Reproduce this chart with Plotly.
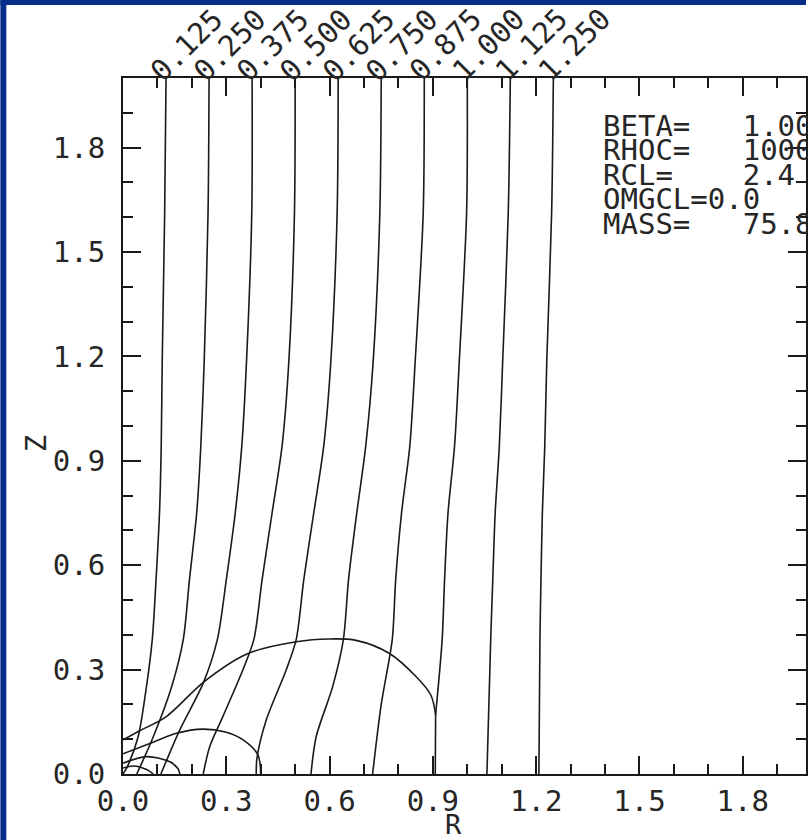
import plotly.graph_objects as go

# ---- data -----------------------------------------------------------------
# field lines, labelled by the cylindrical radius at which they leave the top
line_labels = [0.125, 0.250, 0.375, 0.500, 0.625, 0.750, 0.875, 1.000, 1.125, 1.250]

# common sample heights for the upper part of every line
z_upper = [2.0, 1.613, 1.191, 0.942, 0.750, 0.558, 0.386]
r_upper = [
    [0.125, 0.121, 0.114, 0.111, 0.106, 0.096, 0.085],
    [0.250, 0.247, 0.236, 0.226, 0.214, 0.193, 0.175],
    [0.375, 0.374, 0.359, 0.345, 0.326, 0.300, 0.274],
    [0.500, 0.498, 0.482, 0.462, 0.433, 0.404, 0.380],
    [0.625, 0.622, 0.604, 0.583, 0.554, 0.525, 0.503],
    [0.750, 0.746, 0.727, 0.705, 0.679, 0.655, 0.640],
    [0.875, 0.872, 0.849, 0.833, 0.809, 0.792, 0.782],
    [1.000, 0.998, 0.977, 0.963, 0.944, 0.934, 0.927],
    [1.125, 1.119, 1.103, 1.093, 1.081, 1.074, 1.068],
    [1.250, 1.245, 1.231, 1.225, 1.218, 1.214, 1.211],
]

# lower part of every line, down to the equatorial plane
z_lower = [
    [0.250, 0.107, 0.020, 0.000],
    [0.250, 0.107, 0.000],
    [0.261, 0.127, 0.000],
    [0.299, 0.165, 0.079, 0.000],
    [0.299, 0.155, 0.045, 0.000],
    [0.251, 0.107, 0.000],
    [0.200, 0.000],
    [0.170],
    [0.000],
    [0.000],
]
r_lower = [
    [0.068, 0.044, 0.012, 0.000],
    [0.141, 0.088, 0.040],
    [0.233, 0.165, 0.110],
    [0.348, 0.290, 0.252, 0.233],
    [0.474, 0.416, 0.389, 0.387],
    [0.609, 0.561, 0.546],
    [0.750, 0.725],
    [0.908],
    [1.057],
    [1.208],
]
# straight foot below a corner (line 1.000 drops vertically to the plane)
foot_r = [0.908, 0.907]
foot_z = [0.170, 0.000]

# iso-density surfaces (meridional cuts)
arc_big_r = [0.000, 0.050, 0.126, 0.235, 0.360, 0.503, 0.600, 0.677, 0.773, 0.851, 0.894, 0.908]
arc_big_z = [0.098, 0.125, 0.165, 0.265, 0.345, 0.380, 0.388, 0.384, 0.347, 0.280, 0.227, 0.170]
arc_mid_r = [0.000, 0.078, 0.155, 0.232, 0.300, 0.349, 0.392, 0.400]
arc_mid_z = [0.058, 0.088, 0.117, 0.129, 0.120, 0.098, 0.055, 0.000]
arc_small_r = [0.000, 0.069, 0.136, 0.160, 0.165]
arc_small_z = [0.031, 0.050, 0.035, 0.015, 0.000]
arc_tiny_r = [0.000, 0.030, 0.070, 0.088]
arc_tiny_z = [0.017, 0.023, 0.012, 0.000]

x_ticks = [0.0, 0.3, 0.6, 0.9, 1.2, 1.5, 1.8]
y_ticks = [0.0, 0.3, 0.6, 0.9, 1.2, 1.5, 1.8]
tick_text = ["0.0", "0.3", "0.6", "0.9", "1.2", "1.5", "1.8"]

param_lines = ["BETA=   1.00", "RHOC=   1000", "RCL=    2.4", "OMGCL=0.0", "MASS=   75.8"]

# ---- geometry (pixels) -----------------------------------------------------
W, H = 808, 840
ML, MT, MB = 123, 78, 66
PW, PH = W - ML, H - MT - MB
X_MAX = PW / 345.3
Y_MAX = 2.0

def px_x(p):
    return (p - ML) / PW

def px_y(p):
    return (H - MB - p) / PH

INK = "#1a1a1a"
TXT = "#262626"
FONT = "DejaVu Sans Mono"
NAVY = "#062e8a"

fig = go.Figure()

line_style = dict(color=INK, width=1.6)
for i, lab in enumerate(line_labels):
    rs = r_upper[i] + r_lower[i]
    zs = z_upper + z_lower[i]
    fig.add_trace(go.Scatter(x=rs, y=zs, mode="lines",
                             line=dict(shape="spline", smoothing=0.8, **line_style),
                             hoverinfo="skip", showlegend=False))
fig.add_trace(go.Scatter(x=foot_r, y=foot_z, mode="lines", line=line_style,
                         hoverinfo="skip", showlegend=False))

for ar, az in [(arc_big_r, arc_big_z), (arc_mid_r, arc_mid_z),
               (arc_small_r, arc_small_z), (arc_tiny_r, arc_tiny_z)]:
    fig.add_trace(go.Scatter(x=ar, y=az, mode="lines",
                             line=dict(shape="spline", smoothing=0.9, **line_style),
                             hoverinfo="skip", showlegend=False))

annotations = []
# rotated labels along the top edge, starting where each line meets the frame
fs_top = 29
w_txt = 5 * 0.602 * fs_top
asc_off = 0.346 * fs_top
cx = 0.7071 * (w_txt / 2 - asc_off)
cy = 0.7071 * (w_txt / 2 + asc_off)
for lab in line_labels:
    annotations.append(dict(
        x=lab, y=Y_MAX, xref="x", yref="y", text=f"{lab:.3f}", showarrow=False,
        textangle=-45, xanchor="center", yanchor="middle",
        xshift=cx - 3, yshift=cy - 5,
        font=dict(family=FONT, size=fs_top, color=TXT)))

# parameter block
fs_par = 29
baselines = [136, 160.5, 185, 209.5, 234]
for txt, b in zip(param_lines, baselines):
    annotations.append(dict(
        x=px_x(602), y=px_y(b - 0.346 * fs_par), xref="paper", yref="paper",
        text=txt, showarrow=False, xanchor="left", yanchor="middle",
        font=dict(family=FONT, size=fs_par, color=TXT)))

# axis titles
annotations.append(dict(x=px_x(454), y=px_y(824), xref="paper", yref="paper",
                        text="R", showarrow=False, xanchor="center", yanchor="middle",
                        font=dict(family=FONT, size=27, color=TXT)))
annotations.append(dict(x=px_x(36), y=px_y(444), xref="paper", yref="paper",
                        text="Z", showarrow=False, textangle=-90,
                        xanchor="center", yanchor="middle",
                        font=dict(family=FONT, size=29, color=TXT)))

# dark frame strips on the left and top
shapes = [
    dict(type="rect", xref="paper", yref="paper", x0=px_x(0), x1=px_x(6),
         y0=px_y(H), y1=px_y(0), fillcolor=NAVY, line_width=0, layer="above"),
    dict(type="rect", xref="paper", yref="paper", x0=px_x(0), x1=px_x(W),
         y0=px_y(5), y1=px_y(0), fillcolor=NAVY, line_width=0, layer="above"),
]

axis_common = dict(
    showgrid=False, zeroline=False, showline=True, linecolor=INK, linewidth=2,
    mirror="ticks", ticks="inside", ticklen=18, tickwidth=1.6, tickcolor=INK,
    tickfont=dict(family=FONT, size=29, color=TXT),
    tickvals=x_ticks, ticktext=tick_text,
    minor=dict(dtick=0.1, tick0=0, ticks="inside", ticklen=10, tickwidth=1.5,
               tickcolor=INK, showgrid=False),
)

fig.update_layout(
    width=W, height=H,
    margin=dict(l=ML, r=0, t=MT, b=MB, pad=0),
    paper_bgcolor="white", plot_bgcolor="white",
    xaxis=dict(range=[0, X_MAX], ticklabelstandoff=0, **axis_common),
    yaxis=dict(range=[0, Y_MAX], ticklabelstandoff=10, **axis_common),
    annotations=annotations, shapes=shapes, showlegend=False,
)

fig.write_html("out.html")
